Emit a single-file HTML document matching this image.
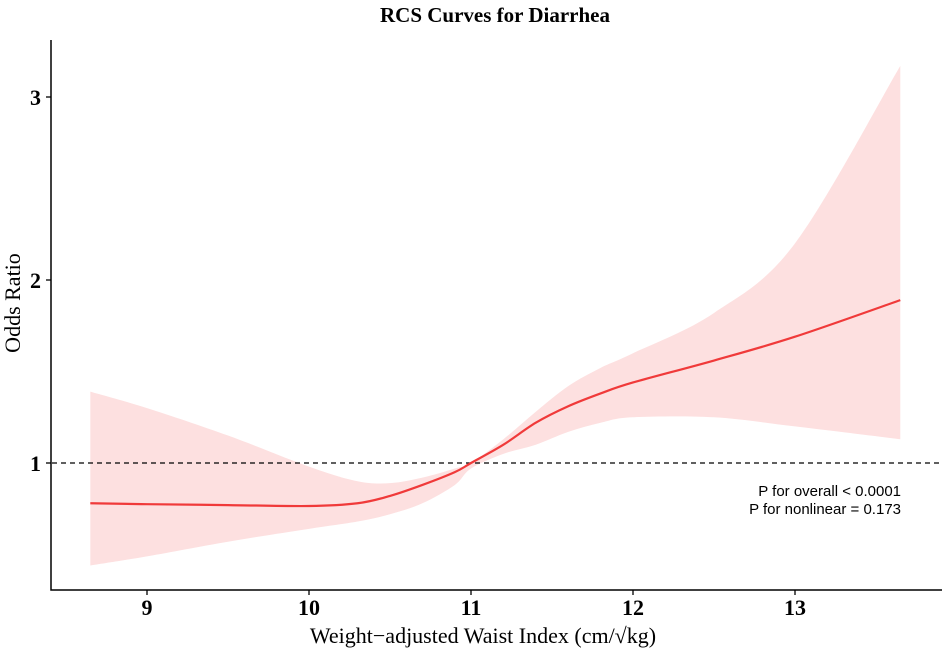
<!DOCTYPE html>
<html><head><meta charset="utf-8"><style>
html,body{margin:0;padding:0;background:#fff;}
svg{display:block;font-family:"Liberation Serif",serif;}
</style></head><body>
<svg id="chart" width="945" height="655" viewBox="0 0 945 655">
<text x="495" y="22" text-anchor="middle" font-size="21" font-weight="bold">RCS Curves for Diarrhea</text>
<g id="plot"></g>
<text x="483" y="643" text-anchor="middle" font-size="22">Weight−adjusted Waist Index (cm/√kg)</text>
<text transform="translate(20,303) rotate(-90)" text-anchor="middle" font-size="22">Odds Ratio</text>
<text x="901" y="496" text-anchor="end" font-size="15" font-family="Liberation Sans, sans-serif">P for overall &lt; 0.0001</text>
<text x="901" y="514" text-anchor="end" font-size="15" font-family="Liberation Sans, sans-serif">P for nonlinear = 0.173</text>
</svg>
<script>
const xVals=[8.65,9,9.5,10,10.3,10.5,10.7,10.9,11,11.2,11.4,11.6,11.8,12,12.5,13,13.65];
const orVals=[0.78,0.775,0.77,0.765,0.78,0.82,0.88,0.95,1.0,1.1,1.22,1.31,1.38,1.44,1.56,1.69,1.89];
const upVals=[1.39,1.30,1.15,0.98,0.90,0.89,0.92,0.97,1.0,1.13,1.28,1.42,1.52,1.6,1.82,2.2,3.17];
const loVals=[0.44,0.49,0.57,0.64,0.68,0.72,0.78,0.88,0.97,1.05,1.1,1.17,1.22,1.25,1.25,1.2,1.13];
const xTicks=[9,10,11,12,13];
const yTicks=[1,2,3];
const sx=v=>147+(v-9)*162;
const sy=v=>463-(v-1)*183;
const NS="http://www.w3.org/2000/svg";
const g=document.getElementById('plot');
function mk(t,a){const e=document.createElementNS(NS,t);for(const k in a)e.setAttribute(k,a[k]);g.appendChild(e);return e;}
function smooth(pts){let d=`M${pts[0][0]},${pts[0][1]}`;for(let i=0;i<pts.length-1;i++){const p0=pts[Math.max(0,i-1)],p1=pts[i],p2=pts[i+1],p3=pts[Math.min(pts.length-1,i+2)];
const c1=[p1[0]+(p2[0]-p0[0])/6,p1[1]+(p2[1]-p0[1])/6],c2=[p2[0]-(p3[0]-p1[0])/6,p2[1]-(p3[1]-p1[1])/6];d+=` C${c1[0]},${c1[1]} ${c2[0]},${c2[1]} ${p2[0]},${p2[1]}`;}return d;}
const up=xVals.map((x,i)=>[sx(x),sy(upVals[i])]);
const lo=xVals.map((x,i)=>[sx(x),sy(loVals[i])]).reverse();
let band=mk('path',{d:smooth(up)+' L'+smooth(lo).slice(1)+' Z',fill:'#fde0e0'});


let ref=mk('line',{x1:52,x2:940,y1:sy(1),y2:sy(1),stroke:'#000','stroke-width':1.3,'stroke-dasharray':'5,4'});


let ln=mk('path',{d:smooth(xVals.map((x,i)=>[sx(x),sy(orVals[i])])),fill:'none',stroke:'#f03a3a','stroke-width':2.2});


let ax=mk('path',{d:'M51,40 V590 H942',fill:'none',stroke:'#000','stroke-width':1.5});


xTicks.forEach(t=>{const l=mk('line',{x1:sx(t),x2:sx(t),y1:590,y2:595,stroke:'#000','stroke-width':1.3});


const tx=mk('text',{x:sx(t),y:615,'text-anchor':'middle','font-size':22,'font-weight':'bold'});tx.textContent=t;

});
yTicks.forEach(t=>{const l=mk('line',{x1:46,x2:51,y1:sy(t),y2:sy(t),stroke:'#000','stroke-width':1.3});


const tx=mk('text',{x:41,y:sy(t)+8,'text-anchor':'end','font-size':22,'font-weight':'bold'});tx.textContent=t;

});
</script>
</body></html>
